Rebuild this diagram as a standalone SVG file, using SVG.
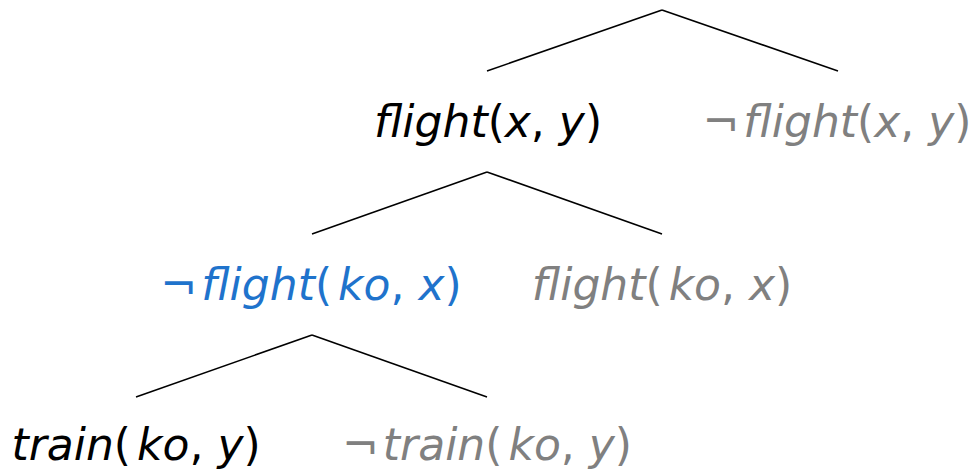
<svg xmlns="http://www.w3.org/2000/svg" width="977" height="475" viewBox="0 0 977 475">
<style>
text{font-family:"DejaVu Sans","Open Sans",sans-serif;font-size:44px;text-anchor:middle}
.i{font-style:italic}
.k{fill:#000}
.g{fill:#808080}
.b{fill:#1f73cc}
.e{stroke:#000;stroke-width:1.6;fill:none}
</style>
<rect width="977" height="475" fill="#fff"/>
<g id="connectors">
<line class="e" x1="662" y1="10" x2="487" y2="71"/>
<line class="e" x1="662" y1="10" x2="838" y2="71"/>
<line class="e" x1="487" y1="172" x2="312" y2="234"/>
<line class="e" x1="487" y1="172" x2="662" y2="234"/>
<line class="e" x1="312" y1="335" x2="136" y2="397"/>
<line class="e" x1="312" y1="335" x2="487" y2="397"/>
</g>
<g id="n1"><text class="k" x="488" y="137"><tspan class="i">flight</tspan>(<tspan class="i">x</tspan>, <tspan class="i">y</tspan>)</text></g>
<g id="n2"><text class="g" x="837" y="137">¬<tspan class="i" dx="4">flight</tspan>(<tspan class="i">x</tspan>, <tspan class="i">y</tspan>)</text></g>
<g id="n3"><text class="b" x="311" y="300">¬<tspan class="i" dx="4">flight</tspan>(<tspan class="i" dx="6">ko</tspan>, <tspan class="i">x</tspan>)</text></g>
<g id="n4"><text class="g" x="662" y="300"><tspan class="i">flight</tspan>(<tspan class="i" dx="6">ko</tspan>, <tspan class="i">x</tspan>)</text></g>
<g id="n5"><text class="k" x="136" y="460"><tspan class="i">train</tspan>(<tspan class="i" dx="6">ko</tspan>, <tspan class="i">y</tspan>)</text></g>
<g id="n6"><text class="g" x="487" y="460">¬<tspan class="i" dx="4">train</tspan>(<tspan class="i" dx="6">ko</tspan>, <tspan class="i">y</tspan>)</text></g>
</svg>
